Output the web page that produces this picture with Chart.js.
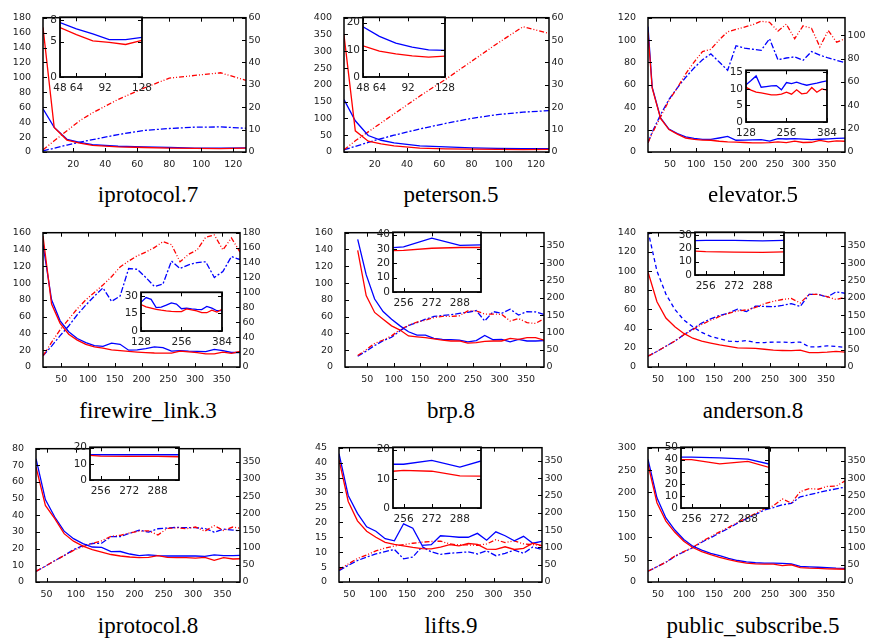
<!DOCTYPE html>
<html><head><meta charset="utf-8">
<script src="https://cdn.jsdelivr.net/npm/chart.js@4.4.0/dist/chart.umd.min.js"></script>
<style>
html,body{margin:0;padding:0;background:#fff;}
#root{position:relative;width:870px;height:644px;overflow:hidden;background:#fff;}
canvas{position:absolute;}
.ttl{position:absolute;font-family:"Liberation Serif","Times New Roman",serif;font-size:23px;line-height:23px;white-space:nowrap;color:#000;transform:translateX(-50%);}
</style></head><body><div id="root"></div>
<script>
// ---------------- DATA ----------------
// iprotocol.7
const ip7X = [1, 8, 16, 24, 32, 48, 64, 80, 96, 112, 128];
const ip7TimeRed = [167, 33, 16, 12, 9, 7, 6, 5.1, 4.9, 4.6, 5.2];
const ip7TimeBlue = [58, 33, 17, 13, 10, 7.7, 6.8, 6.1, 5.3, 5.3, 5.6];
const ip7RatioRed = [1, 5, 9.5, 14, 17.5, 23.5, 28.5, 33, 34.2, 35.4, 32];
const ip7RatioBlue = [0.5, 1.7, 3.1, 4.4, 5.5, 7.8, 9.6, 10.5, 11.1, 11.2, 10.6];
const ip7XTicks = [20, 40, 60, 80, 100, 120];
const ip7LeftTicks = [0, 20, 40, 60, 80, 100, 120, 140, 160, 180];
const ip7RightTicks = [0, 10, 20, 30, 40, 50, 60];
const ip7InsetXTicks = [48, 64, 92, 128];
const ip7InsetYTicks = [0, 5, 8];

// peterson.5
const petX = [1, 8, 16, 24, 32, 48, 64, 80, 96, 112, 128];
const petTimeRed = [348, 63, 32, 24, 18, 11.5, 9.5, 8.5, 7.8, 7.3, 7.7];
const petTimeBlue = [156, 93, 49, 35, 27, 18.5, 15, 12.5, 11, 10, 9.8];
const petRatioRed = [1, 5, 9, 13, 17, 25, 32.5, 40.5, 48.5, 56, 53];
const petRatioBlue = [1, 2.5, 4.3, 6, 7.5, 10.3, 12.8, 15, 16.7, 17.8, 18.5];
const petXTicks = [20, 40, 60, 80, 100, 120];
const petLeftTicks = [0, 50, 100, 150, 200, 250, 300, 350, 400];
const petRightTicks = [0, 10, 20, 30, 40, 50, 60];
const petInsetXTicks = [48, 64, 92, 128];
const petInsetYTicks = [0, 10, 20];

// elevator.5
const elvX = [8, 16, 32, 48, 64, 80, 96, 112, 128, 144, 160, 176, 192, 208, 224, 240, 256, 272, 288, 304, 320, 336, 352, 368, 384];
const elvTimeRed = [107, 57, 30, 20, 16, 12.5, 11.2, 10.6, 10.5, 9.6, 9, 8.8, 8.5, 8.2, 8.2, 8.4, 9, 8.4, 9.7, 8.5, 8.7, 10.4, 9, 10, 9.6];
const elvTimeBlue = [112, 58, 30.5, 20.5, 16.5, 13.5, 12.2, 11.3, 11.2, 12.5, 13.9, 10.5, 10.7, 10.9, 11, 9.7, 11.9, 11.6, 12, 11.5, 11.1, 11.4, 11.7, 12.1, 12.4];
const elvRatioRed = [8, 16, 30, 44, 55, 67, 77, 86, 88, 96, 103, 105, 107, 109, 112, 111, 103.5, 109.5, 97, 108, 106, 90, 104, 94, 97];
const elvRatioBlue = [8, 17, 32, 45, 55, 64, 72, 79, 84, 77, 70, 91, 89, 88, 87, 97, 79, 80.5, 81.5, 78.5, 86, 83, 80.5, 78.5, 76.5];
const elvXTicks = [50, 100, 150, 200, 250, 300, 350];
const elvLeftTicks = [0, 20, 40, 60, 80, 100, 120];
const elvRightTicks = [0, 20, 40, 60, 80, 100];
const elvInsetXTicks = [128, 256, 384];
const elvInsetYTicks = [0, 5, 10, 15];

// firewire_link.3
const fwX = [16, 32, 48, 64, 80, 96, 112, 128, 144, 160, 176, 192, 208, 224, 240, 256, 272, 288, 304, 320, 336, 352, 368, 384];
const fwTimeRed = [156, 75, 52, 39, 32, 27, 24, 22.5, 20.5, 19.5, 18.5, 17.8, 17.2, 16.7, 16.5, 16.5, 18.8, 18, 17.2, 15.6, 15.6, 17.8, 16.2, 18.5];
const fwTimeBlue = [146, 80, 55, 42, 34, 29, 25.5, 24.5, 28.5, 27, 20, 20.3, 22, 24, 23, 19, 19.5, 18.8, 18.5, 18.3, 21, 19.5, 17.3, 17.3];
const fwRatioRed = [15, 33, 50, 64, 78, 90, 100, 110, 121, 134, 142, 149, 154, 160, 168, 164, 141, 151, 157, 174, 177, 157, 173, 154];
const fwRatioBlue = [15, 28, 42, 55, 70, 83, 95, 106, 88, 95, 132, 131, 120, 108, 111, 142, 132, 137, 140, 141, 120, 128, 148, 144];
const fwXTicks = [50, 100, 150, 200, 250, 300, 350];
const fwLeftTicks = [0, 20, 40, 60, 80, 100, 120, 140, 160];
const fwRightTicks = [0, 20, 40, 60, 80, 100, 120, 140, 160, 180];
const fwInsetXTicks = [128, 256, 384];
const fwInsetYTicks = [0, 15, 30];

// brp.8
const brpX = [32, 48, 64, 80, 96, 112, 128, 144, 160, 176, 192, 208, 224, 240, 256, 272, 288, 304, 320, 336, 352, 368, 384];
const brpTimeRed = [139, 85, 65, 57, 49, 44, 37, 36, 35, 33.5, 32, 31, 31, 28.5, 29, 30.5, 31, 31, 34, 33, 35, 35, 32];
const brpTimeBlue = [152, 110, 81, 66, 57, 49, 42, 38, 38, 34, 33, 32.5, 32, 30, 31.5, 37.5, 32.5, 33, 30, 33, 31, 31, 31.5];
const brpRatioRed = [33, 50, 68, 78, 90, 108, 120, 130, 135, 143, 146, 146, 148, 162, 162, 153, 153, 152, 133, 140, 128, 126, 139];
const brpRatioBlue = [31, 46, 62, 76, 86, 105, 120, 128, 138, 146, 149, 151, 155, 158, 163, 133, 160, 155, 167, 150, 160, 159, 152];
const brpXTicks = [50, 100, 150, 200, 250, 300, 350];
const brpLeftTicks = [0, 20, 40, 60, 80, 100, 120, 140, 160];
const brpRightTicks = [0, 50, 100, 150, 200, 250, 300, 350];
const brpInsetXTicks = [256, 272, 288];
const brpInsetYTicks = [0, 10, 20, 30, 40];

// anderson.8
const andX = [32, 48, 64, 80, 96, 112, 128, 144, 160, 176, 192, 208, 224, 240, 256, 272, 288, 304, 320, 336, 352, 368, 384];
const andTimeRed = [99, 68, 51, 42, 35, 30, 27, 25, 23, 21.5, 20, 19.7, 19.4, 18.5, 17.5, 17.2, 17, 17.5, 15, 15, 15.5, 16.3, 15.5];
const andTimeBlue = [142, 100, 76, 60, 49, 42, 36, 32, 29.5, 27, 26.5, 27.5, 25.5, 25.5, 26, 26, 25.5, 26, 21, 21, 22, 21.5, 20.5];
const andRatioRed = [31, 45, 60, 75, 93, 108, 123, 135, 146, 155, 162, 165, 172, 183, 190, 195, 198, 185, 210, 210, 203, 195, 201];
const andRatioBlue = [31, 45, 60, 75, 93, 110, 127, 139, 149, 156, 167, 160, 176, 175, 174, 178, 183, 175, 210, 210, 202, 217, 213];
const andXTicks = [50, 100, 150, 200, 250, 300, 350];
const andLeftTicks = [0, 20, 40, 60, 80, 100, 120, 140];
const andRightTicks = [0, 50, 100, 150, 200, 250, 300, 350];
const andInsetXTicks = [256, 272, 288];
const andInsetYTicks = [0, 10, 20, 30];

// iprotocol.8
const ip8X = [32, 48, 64, 80, 96, 112, 128, 144, 160, 176, 192, 208, 224, 240, 256, 272, 288, 304, 320, 336, 352, 368, 384];
const ip8TimeRed = [69, 46, 38, 29, 24.5, 21.5, 19.5, 18, 16.5, 15.6, 15, 14.6, 14.8, 15.8, 14.8, 14.6, 14.6, 14.3, 14.8, 13, 14.6, 13.8, 14];
const ip8TimeBlue = [74, 49.5, 39, 30.5, 26, 23, 21, 20.8, 18.2, 18.3, 16.8, 15.8, 16.3, 15.8, 15.6, 15.6, 15.6, 15.6, 15.4, 16.3, 15.8, 15.8, 16];
const ip8RatioRed = [31, 46, 62, 77, 92, 103, 112, 120, 133, 136, 143, 148, 149, 137, 156, 158, 155, 160, 148, 164, 150, 160, 155];
const ip8RatioBlue = [31, 46, 62, 77, 94, 106, 112, 113, 132, 132, 142, 151, 145, 155, 157, 159, 158, 158, 156, 145, 154, 151, 148];
const ip8XTicks = [50, 100, 150, 200, 250, 300, 350];
const ip8LeftTicks = [0, 10, 20, 30, 40, 50, 60, 70, 80];
const ip8RightTicks = [0, 50, 100, 150, 200, 250, 300, 350];
const ip8InsetXTicks = [256, 272, 288];
const ip8InsetYTicks = [0, 10, 20];

// lifts.9
const lftX = [32, 48, 64, 80, 96, 112, 128, 144, 160, 176, 192, 208, 224, 240, 256, 272, 288, 304, 320, 336, 352, 368, 384];
const lftTimeRed = [41, 27, 20.5, 17, 15, 13.3, 12.6, 12.1, 11.6, 11.2, 11.1, 11.7, 12.5, 12.1, 12.9, 12.6, 11, 10.9, 11.8, 10.9, 11.3, 13, 12.2];
const lftTimeBlue = [43, 29, 23, 18.5, 17, 14.5, 13.8, 19.5, 18, 12.3, 12.5, 15.5, 15.3, 15, 15, 16.3, 14, 16.8, 15.5, 13.8, 15.3, 13, 13.6];
const lftRatioRed = [36, 52, 68, 78, 90, 98, 104, 108, 112, 115, 117, 118, 110, 107, 107, 106, 110, 122, 114, 119, 110, 108, 105];
const lftRatioBlue = [33, 48, 62, 72, 81, 88, 94, 67, 72, 102, 87, 80, 83, 85, 87, 81, 90, 76, 83, 92, 83, 101, 94];
const lftXTicks = [50, 100, 150, 200, 250, 300, 350];
const lftLeftTicks = [0, 5, 10, 15, 20, 25, 30, 35, 40, 45];
const lftRightTicks = [0, 50, 100, 150, 200, 250, 300, 350];
const lftInsetXTicks = [256, 272, 288];
const lftInsetYTicks = [0, 10, 20];

// public_subscribe.5
const pubX = [32, 48, 64, 80, 96, 112, 128, 144, 160, 176, 192, 208, 224, 240, 256, 272, 288, 304, 320, 336, 352, 368, 384];
const pubTimeRed = [263, 177, 136, 111, 91, 77, 68, 61, 55, 50, 45.5, 42, 40.5, 40, 40, 36.5, 38.5, 32, 31, 30.5, 29.5, 29, 28.5];
const pubTimeBlue = [274, 188, 143, 116, 95, 80, 71, 64, 59, 53, 48, 45, 43, 42, 42, 41.5, 40.5, 35, 34, 33, 32, 31, 30.5];
const pubRatioRed = [31, 44, 57, 75, 88, 100, 117, 131, 145, 158, 172, 185, 198, 212, 220, 240, 228, 261, 270, 268, 276, 277, 292];
const pubRatioBlue = [31, 44, 57, 74, 87, 99, 115, 128, 142, 155, 170, 183, 195, 208, 215, 223, 227, 246, 252, 258, 264, 269, 274];
const pubXTicks = [50, 100, 150, 200, 250, 300, 350];
const pubLeftTicks = [0, 50, 100, 150, 200, 250, 300];
const pubRightTicks = [0, 50, 100, 150, 200, 250, 300, 350];
const pubInsetXTicks = [256, 272, 288];
const pubInsetYTicks = [0, 10, 20, 30, 40, 50];

const titles = ['iprotocol.7', 'peterson.5', 'elevator.5', 'firewire_link.3', 'brp.8', 'anderson.8', 'iprotocol.8', 'lifts.9', 'public_subscribe.5'];

// ---------------- LAYOUT / DRAWING ----------------
Chart.defaults.font.family = '"DejaVu Sans", sans-serif';
Chart.defaults.color = '#222';
const RED = '#ff0000', BLUE = '#0000ff';
const DASH_RED = [5, 2, 1, 2, 1, 2], DASH_BLUE = [6, 2, 2, 2], DASH_PLAIN = [4, 3];
const root = document.getElementById('root');
let uid = 0;

function pts(xs, ys) { return xs.map((x, i) => ({ x: x, y: ys[i] })); }
function setTicks(vals) { return s => { s.ticks = vals.map(v => ({ value: v })); }; }

function frame(opt) {
  return {
    id: 'frame' + (uid++),
    beforeDatasetsDraw(chart) {
      if (!opt.fill) return;
      const a = chart.chartArea, ctx = chart.ctx;
      ctx.save(); ctx.fillStyle = '#fff';
      ctx.fillRect(a.left, a.top, a.right - a.left, a.bottom - a.top);
      ctx.restore();
    },
    afterDraw(chart) {
      const a = chart.chartArea, ctx = chart.ctx, sc = chart.scales;
      const tl = opt.tick;
      ctx.save();
      ctx.strokeStyle = '#000';
      ctx.lineWidth = 1;
      ctx.beginPath();
      sc.x.ticks.forEach(t => {
        const px = Math.round(sc.x.getPixelForValue(t.value)) + 0.5;
        ctx.moveTo(px, a.bottom); ctx.lineTo(px, a.bottom - tl);
        ctx.moveTo(px, a.top); ctx.lineTo(px, a.top + tl);
      });
      sc.y.ticks.forEach(t => {
        const py = Math.round(sc.y.getPixelForValue(t.value)) + 0.5;
        ctx.moveTo(a.left, py); ctx.lineTo(a.left + tl, py);
        if (!sc.y2) { ctx.moveTo(a.right, py); ctx.lineTo(a.right - tl, py); }
      });
      if (sc.y2) sc.y2.ticks.forEach(t => {
        const py = Math.round(sc.y2.getPixelForValue(t.value)) + 0.5;
        ctx.moveTo(a.right, py); ctx.lineTo(a.right - tl, py);
      });
      ctx.stroke();
      ctx.lineWidth = opt.lw;
      ctx.strokeRect(a.left, a.top, a.right - a.left, a.bottom - a.top);
      ctx.restore();
    }
  };
}

function mkCanvas(L, T, R, B, pl, pt, pr, pb) {
  const c = document.createElement('canvas');
  const w = (R - L) + pl + pr, h = (B - T) + pt + pb;
  c.width = w; c.height = h;
  c.style.left = (L - pl) + 'px'; c.style.top = (T - pt) + 'px';
  c.style.width = w + 'px'; c.style.height = h + 'px';
  root.appendChild(c);
  return c;
}

function mainChart(p) {
  const L = Math.round(p.box[0]), T = Math.round(p.box[1]), R = Math.round(p.box[2]), B = Math.round(p.box[3]);
  const pl = 36, pt = 10, pr = 26, pb = 24;
  const c = mkCanvas(L, T, R, B, pl, pt, pr, pb);
  const tickFont = { size: 9.5 };
  const lw = 1.3;
  new Chart(c, {
    type: 'line',
    data: { datasets: [
      { data: pts(p.xs, p.tRed), yAxisID: 'y', borderColor: RED, borderWidth: lw },
      { data: pts(p.xs, p.tBlue), yAxisID: 'y', borderColor: BLUE, borderWidth: lw, borderDash: p.blueDashed ? DASH_PLAIN : [] },
      { data: pts(p.xs, p.rRed), yAxisID: 'y2', borderColor: RED, borderWidth: lw, borderDash: DASH_RED },
      { data: pts(p.xs, p.rBlue), yAxisID: 'y2', borderColor: BLUE, borderWidth: lw, borderDash: DASH_BLUE }
    ] },
    options: {
      responsive: false, animation: false, devicePixelRatio: 1,
      layout: { padding: { top: pt, left: 0, right: 0, bottom: 0 } },
      plugins: { legend: { display: false }, tooltip: { enabled: false } },
      elements: { point: { radius: 0 }, line: { tension: 0, fill: false } },
      scales: {
        x: { type: 'linear', position: 'bottom', min: p.xMin, max: p.xMax,
             grid: { display: false, drawTicks: false }, border: { display: false },
             ticks: { padding: 7, font: tickFont, autoSkip: false, maxRotation: 0 },
             afterBuildTicks: setTicks(p.xT), afterFit: s => { s.height = pb; } },
        y: { type: 'linear', position: 'left', min: 0, max: p.yMax,
             grid: { display: false, drawTicks: false }, border: { display: false },
             ticks: { padding: 12, font: tickFont, autoSkip: false },
             afterBuildTicks: setTicks(p.yT), afterFit: s => { s.width = pl; } },
        y2: { type: 'linear', position: 'right', min: 0, max: p.y2Max,
             grid: { display: false, drawTicks: false }, border: { display: false },
             ticks: { padding: 2.5, font: tickFont, autoSkip: false },
             afterBuildTicks: setTicks(p.y2T), afterFit: s => { s.width = pr; } }
      }
    },
    plugins: [frame({ tick: 4, lw: 1.5, fill: false })]
  });
}

function insetChart(p) {
  const L = Math.round(p.box[0]), T = Math.round(p.box[1]), R = Math.round(p.box[2]), B = Math.round(p.box[3]);
  const pl = 26, pt = 8, pr = 8, pb = 20;
  const c = mkCanvas(L, T, R, B, pl, pt, pr, pb);
  const tickFont = { size: 10.5 };
  new Chart(c, {
    type: 'line',
    data: { datasets: [
      { data: pts(p.xs, p.tRed), borderColor: RED, borderWidth: 1.3 },
      { data: pts(p.xs, p.tBlue), borderColor: BLUE, borderWidth: 1.3 }
    ] },
    options: {
      responsive: false, animation: false, devicePixelRatio: 1,
      layout: { padding: { top: pt, left: 0, right: pr, bottom: 0 } },
      plugins: { legend: { display: false }, tooltip: { enabled: false } },
      elements: { point: { radius: 0 }, line: { tension: 0, fill: false } },
      scales: {
        x: { type: 'linear', position: 'bottom', min: p.xMin, max: p.xMax,
             grid: { display: false, drawTicks: false }, border: { display: false },
             ticks: { padding: 5, font: tickFont, autoSkip: false, maxRotation: 0 },
             afterBuildTicks: setTicks(p.xT), afterFit: s => { s.height = pb; } },
        y: { type: 'linear', position: 'left', min: 0, max: p.yMax,
             grid: { display: false, drawTicks: false }, border: { display: false },
             ticks: { padding: 3, font: tickFont, autoSkip: false },
             afterBuildTicks: setTicks(p.yT), afterFit: s => { s.width = pl; } }
      }
    },
    plugins: [frame({ tick: 4, lw: 1.8, fill: true })]
  });
}

function title(text, cx, top) {
  const d = document.createElement('div');
  d.className = 'ttl'; d.textContent = text;
  d.style.left = cx + 'px'; d.style.top = top + 'px';
  root.appendChild(d);
}

const panels = [
  { xs: ip7X, tRed: ip7TimeRed, tBlue: ip7TimeBlue, rRed: ip7RatioRed, rBlue: ip7RatioBlue,
    box: [43, 10, 246, 152], xMin: 1, xMax: 128, xT: ip7XTicks, yMax: 180, yT: ip7LeftTicks, y2Max: 60, y2T: ip7RightTicks,
    inset: { box: [60, 16, 149, 77], xMin: 48, xMax: 128, xT: ip7InsetXTicks, yMax: 8.45, yT: ip7InsetYTicks },
    title: [148, 183] },
  { xs: petX, tRed: petTimeRed, tBlue: petTimeBlue, rRed: petRatioRed, rBlue: petRatioBlue,
    box: [344, 10, 549, 152], xMin: 1, xMax: 128, xT: petXTicks, yMax: 400, yT: petLeftTicks, y2Max: 60, y2T: petRightTicks,
    inset: { box: [363, 16, 452, 77], xMin: 48, xMax: 128, xT: petInsetXTicks, yMax: 22, yT: petInsetYTicks },
    title: [451, 183] },
  { xs: elvX, tRed: elvTimeRed, tBlue: elvTimeBlue, rRed: elvRatioRed, rBlue: elvRatioBlue,
    box: [648, 10, 845, 152], xMin: 8, xMax: 384, xT: elvXTicks, yMax: 120, yT: elvLeftTicks, y2Max: 115, y2T: elvRightTicks,
    inset: { box: [746, 69, 834, 122], xMin: 128, xMax: 384, xT: elvInsetXTicks, yMax: 15.6, yT: elvInsetYTicks },
    title: [753, 183] },
  { xs: fwX, tRed: fwTimeRed, tBlue: fwTimeBlue, rRed: fwRatioRed, rBlue: fwRatioBlue,
    box: [43, 225, 240, 367], xMin: 16, xMax: 384, xT: fwXTicks, yMax: 160, yT: fwLeftTicks, y2Max: 180, y2T: fwRightTicks,
    inset: { box: [141, 291, 229, 331], xMin: 128, xMax: 384, xT: fwInsetXTicks, yMax: 33, yT: fwInsetYTicks },
    title: [148, 399] },
  { xs: brpX, tRed: brpTimeRed, tBlue: brpTimeBlue, rRed: brpRatioRed, rBlue: brpRatioBlue,
    box: [345, 225, 544, 367], xMin: 8, xMax: 384, xT: brpXTicks, yMax: 160, yT: brpLeftTicks, y2Max: 388, y2T: brpRightTicks,
    inset: { box: [393, 231, 481, 292], xMin: 250, xMax: 300, xT: brpInsetXTicks, yMax: 41.6, yT: brpInsetYTicks },
    title: [451, 399] },
  { xs: andX, tRed: andTimeRed, tBlue: andTimeBlue, rRed: andRatioRed, rBlue: andRatioBlue, blueDashed: true,
    box: [648, 225, 845, 367], xMin: 32, xMax: 384, xT: andXTicks, yMax: 140, yT: andLeftTicks, y2Max: 388, y2T: andRightTicks,
    inset: { box: [695, 231, 784, 275], xMin: 250, xMax: 300, xT: andInsetXTicks, yMax: 32, yT: andInsetYTicks },
    title: [753, 399] },
  { xs: ip8X, tRed: ip8TimeRed, tBlue: ip8TimeBlue, rRed: ip8RatioRed, rBlue: ip8RatioBlue,
    box: [36, 441, 240, 582], xMin: 32, xMax: 380, xT: ip8XTicks, yMax: 80, yT: ip8LeftTicks, y2Max: 388, y2T: ip8RightTicks,
    inset: { box: [90, 446, 179, 480], xMin: 250, xMax: 300, xT: ip8InsetXTicks, yMax: 20.2, yT: ip8InsetYTicks },
    title: [148, 614] },
  { xs: lftX, tRed: lftTimeRed, tBlue: lftTimeBlue, rRed: lftRatioRed, rBlue: lftRatioBlue,
    box: [339, 440, 542, 582], xMin: 32, xMax: 384, xT: lftXTicks, yMax: 45, yT: lftLeftTicks, y2Max: 388, y2T: lftRightTicks,
    inset: { box: [393, 446, 481, 508], xMin: 250, xMax: 300, xT: lftInsetXTicks, yMax: 20.8, yT: lftInsetYTicks },
    title: [451, 614] },
  { xs: pubX, tRed: pubTimeRed, tBlue: pubTimeBlue, rRed: pubRatioRed, rBlue: pubRatioBlue,
    box: [648, 440, 845, 582], xMin: 32, xMax: 384, xT: pubXTicks, yMax: 300, yT: pubLeftTicks, y2Max: 388, y2T: pubRightTicks,
    inset: { box: [681, 446, 769, 508], xMin: 250, xMax: 300, xT: pubInsetXTicks, yMax: 50.2, yT: pubInsetYTicks },
    title: [753, 614] }
];

panels.forEach((p, i) => {
  mainChart(p);
  insetChart(Object.assign({ xs: p.xs, tRed: p.tRed, tBlue: p.tBlue }, p.inset));
  title(titles[i], p.title[0], p.title[1]);
});
</script>
</body></html>
